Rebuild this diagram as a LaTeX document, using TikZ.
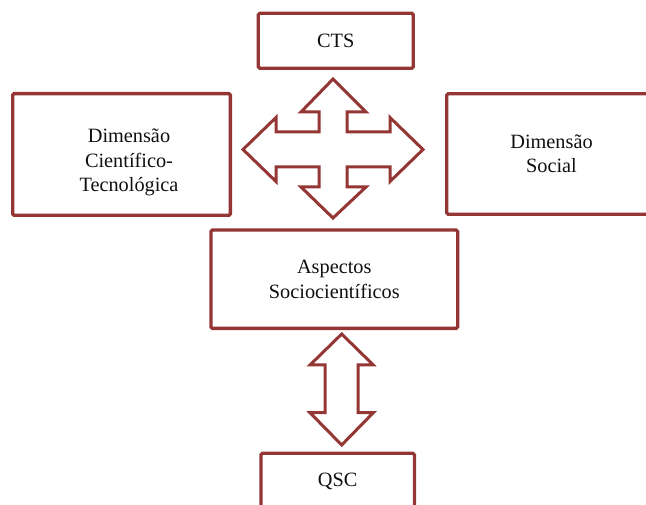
\documentclass[tikz,border=0pt]{standalone}
\usepackage{fontspec}
\setmainfont{Liberation Serif}
\usepackage{xcolor}
\definecolor{frame}{HTML}{943634}
\definecolor{ink}{HTML}{101010}
\tikzset{
  every node/.style={font=\fontsize{20.3}{24.5}\selectfont,text=ink},
  box/.style={draw=frame,line width=3.3pt,rounded corners=1.5pt,fill=white,align=center,inner sep=0pt},
  boxtext/.style={align=center,inner sep=0pt},
  blockarrow/.style={draw=frame,line width=3pt,fill=white,line join=miter},
}

\begin{document}
\begin{tikzpicture}[x=1pt,y=-1pt]
  \clip (0,0) rectangle (646,505);
  \useasboundingbox (0,0) rectangle (646,505);

  \node[box,minimum width=155pt,minimum height=55pt] (cts) at (335.8,40.8) {CTS};
  \node[box,minimum width=217.7pt,minimum height=121.7pt] (dimct) at (121.5,154.5) {};
  \node[boxtext] (dimct-t) at (129,162.7) {Dimensão\hspace{0.8em}\\Científico-\\Tecnológica};
  \node[box,minimum width=209.6pt,minimum height=120.6pt] (dimsoc) at (551.5,154) {Dimensão\\Social};
  \node[box,minimum width=246.7pt,minimum height=98.4pt] (asc) at (334.3,279.2) {Aspectos\\Sociocientíficos};
  \node[box,minimum width=153.4pt,minimum height=55.4pt] (qsc) at (337.7,481) {QSC};

  % four-way arrow between the dimensions
  \draw[blockarrow] (333,79) -- (366,112) -- (347,112) -- (347,132) -- (390,132)
    -- (390,117.5) -- (423,149.5) -- (390,181.5) -- (390,167) -- (347,167)
    -- (347,187) -- (366,187) -- (333,218) -- (301,187) -- (319,187)
    -- (319,167) -- (276,167) -- (276,181.5) -- (243,149.5) -- (276,117.5)
    -- (276,132) -- (319,132) -- (319,112) -- (301,112) -- cycle;

  % up-down arrow to QSC
  \draw[blockarrow] (341.7,334) -- (373.3,365) -- (358,365) -- (358,412.7)
    -- (373.3,412.7) -- (341.7,445) -- (310,412.7) -- (325,412.7)
    -- (325,365) -- (310,365) -- cycle;
\end{tikzpicture}
\end{document}
